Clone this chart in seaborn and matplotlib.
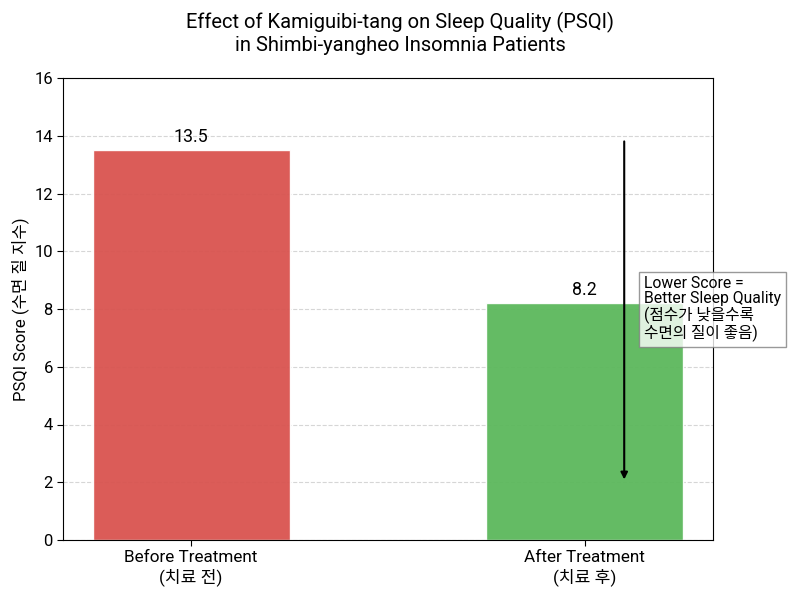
import matplotlib
matplotlib.use("Agg")
import matplotlib.pyplot as plt
import seaborn as sns
import pandas as pd

categories = ["Before Treatment\n(치료 전)", "After Treatment\n(치료 후)"]
psqi_scores = [13.5, 8.2]
bar_colors = ["#d9534f", "#5cb85c"]

sns.set_style("white")
plt.rcParams["font.family"] = ["Roboto", "Noto Sans CJK KR", "DejaVu Sans"]
plt.rcParams["text.color"] = "black"
plt.rcParams["axes.labelcolor"] = "black"
plt.rcParams["xtick.color"] = "black"
plt.rcParams["ytick.color"] = "black"

df = pd.DataFrame({"group": categories, "score": psqi_scores})

fig = plt.figure(figsize=(8, 6), dpi=100)
ax = fig.add_axes([0.079, 0.1, 0.812, 0.77])

sns.barplot(
    data=df, x="group", y="score", hue="group",
    palette=bar_colors, width=0.5, alpha=0.95, saturation=1,
    legend=False, ax=ax, zorder=2
)

for i, v in enumerate(psqi_scores):
    ax.text(i, v + 0.15, f"{v}", ha="center", va="bottom", fontsize=12.8)

ax.set_xlim(-0.325, 1.325)
ax.set_ylim(0, 16)
ax.set_xlabel("")
ax.set_ylabel("PSQI Score (수면 질 지수)", fontsize=12)
ax.tick_params(axis="x", labelsize=12.3, length=4, bottom=True)
ax.tick_params(axis="y", labelsize=12, length=4, left=True)
ax.yaxis.grid(True, linestyle="--", color="#cccccc", alpha=0.8, zorder=0)
ax.set_axisbelow(True)
for s in ax.spines.values():
    s.set_color("black")
    s.set_linewidth(0.8)

ax.annotate(
    "", xy=(1.1, 2.0), xytext=(1.1, 13.9),
    arrowprops=dict(arrowstyle="-|>", color="black", lw=1.5, mutation_scale=10)
)
ax.text(
    1.15, 8.0,
    "Lower Score =\nBetter Sleep Quality\n(점수가 낮을수록\n수면의 질이 좋음)",
    ha="left", va="center", fontsize=11.3, linespacing=1.05,
    bbox=dict(facecolor="white", edgecolor="gray", alpha=0.8, boxstyle="square,pad=0.3")
)

fig.suptitle(
    "Effect of Kamiguibi-tang on Sleep Quality (PSQI)\nin Shimbi-yangheo Insomnia Patients",
    fontsize=14.5, y=0.98
)

fig.savefig("out.png", dpi=100)
